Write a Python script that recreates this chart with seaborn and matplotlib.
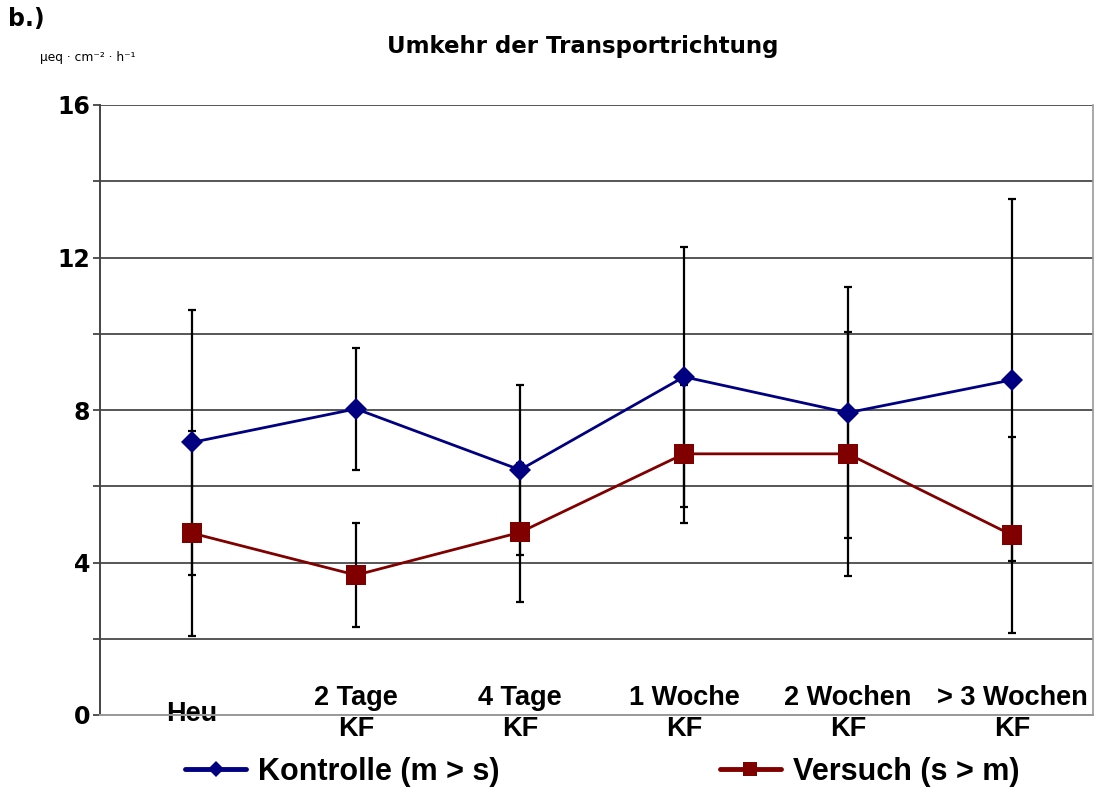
import matplotlib
matplotlib.use("Agg")
import matplotlib.pyplot as plt
from matplotlib.lines import Line2D
from matplotlib.ticker import MultipleLocator
import seaborn as sns
import pandas as pd

# ---- data ----
categories = ["Heu", "2 Tage\nKF", "4 Tage\nKF", "1 Woche\nKF", "2 Wochen\nKF", "> 3 Wochen\nKF"]
kontrolle_mean = [7.15, 8.03, 6.43, 8.87, 7.93, 8.79]
kontrolle_err = [3.47, 1.60, 2.23, 3.41, 3.30, 4.75]
versuch_mean = [4.77, 3.67, 4.79, 6.85, 6.85, 4.72]
versuch_err = [2.69, 1.36, 1.82, 1.81, 3.20, 2.57]
series_names = ["Kontrolle (m > s)", "Versuch (s > m)"]
y_ticks = [0, 4, 8, 12, 16]

title = "Umkehr der Transportrichtung"
panel_label = "b.)"
unit_label = "µeq · cm⁻² · h⁻¹"

colors = {series_names[0]: "#000080", series_names[1]: "#800000"}
markers = {series_names[0]: "D", series_names[1]: "s"}
msizes = {series_names[0]: 11.5, series_names[1]: 14}

sns.set_style("white")
plt.rcParams["font.family"] = ["DejaVu Sans"]
plt.rcParams["text.color"] = "black"
plt.rcParams["xtick.color"] = "black"
plt.rcParams["ytick.color"] = "black"

pos = list(range(len(categories)))
df = pd.DataFrame({
    "pos": pos * 2,
    "value": kontrolle_mean + versuch_mean,
    "err": kontrolle_err + versuch_err,
    "series": [series_names[0]] * len(pos) + [series_names[1]] * len(pos),
})

fig = plt.figure(figsize=(10.97, 7.94), dpi=100)
ax = fig.add_axes([100 / 1097, 1 - 715 / 794, 993 / 1097, 610 / 794])

# error bars
for name in series_names:
    sub = df[df["series"] == name]
    ax.errorbar(sub["pos"], sub["value"], yerr=sub["err"], fmt="none",
                ecolor="black", elinewidth=1.6, capsize=3.2, capthick=1.6, zorder=2)

# lines with markers
for name in series_names:
    sub = df[df["series"] == name]
    sns.lineplot(data=sub, x="pos", y="value", color=colors[name], marker=markers[name],
                 markersize=msizes[name], markeredgewidth=0, linewidth=2, ax=ax,
                 legend=False, zorder=3)

ax.set_xlim(-0.561, 5.494)
ax.set_ylim(0, 16)
ax.set_yticks(y_ticks)
ax.yaxis.set_minor_locator(MultipleLocator(2))
ax.set_yticklabels([str(t) for t in y_ticks], fontsize=17, fontweight="bold", color="black")
ax.grid(which="both", axis="y", color="#3a3a3a", linewidth=1.2, zorder=1)
ax.grid(axis="x", visible=False)
ax.set_axisbelow(True)
ax.tick_params(axis="y", which="major", direction="out", length=5, width=1.3,
               color="#444444", pad=2, left=True)
ax.tick_params(axis="y", which="minor", direction="out", length=5, width=1.3,
               color="#444444", left=True)

ax.set_xticks(pos)
ax.set_xticklabels(categories, fontsize=19.5, fontweight="bold", color="black",
                   family=["Liberation Sans", "DejaVu Sans"], linespacing=1.22)
ax.tick_params(axis="x", length=0, pad=-1.0)
for lbl in ax.get_xticklabels():
    lbl.set_va("center")

ax.set_xlabel("")
ax.set_ylabel("")
ax.spines["top"].set_visible(False)
ax.spines["left"].set_color("#444444")
ax.spines["left"].set_linewidth(1.4)
ax.spines["bottom"].set_color("#9a9a9a")
ax.spines["bottom"].set_linewidth(1.4)
ax.spines["right"].set_color("#9a9a9a")
ax.spines["right"].set_linewidth(1.2)

fig.text(583 / 1097, 1 - 47 / 794, title, ha="center", va="center",
         fontsize=16.5, fontweight="bold", color="black")
fig.text(8 / 1097, 1 - 19 / 794, panel_label, ha="left", va="center",
         fontsize=17, fontweight="bold", color="black")
fig.text(40 / 1097, 1 - 57 / 794, unit_label, ha="left", va="center", fontsize=8.8,
         color="black")

handles = [Line2D([0], [0], color=colors[n], marker=markers[n], lw=3.5,
                  markersize=msizes[n] * 0.75, markeredgewidth=0) for n in series_names]
fig.legend(handles, series_names, loc="center left",
           bbox_to_anchor=(185 / 1097, 1 - 772 / 794), ncol=2, frameon=False,
           prop={"family": ["Liberation Sans", "DejaVu Sans"], "weight": "bold", "size": 22},
           labelcolor="black",
           handlelength=2.0, handletextpad=0.4, columnspacing=7.2,
           borderpad=0, borderaxespad=0)

fig.savefig("out.png", dpi=100)
